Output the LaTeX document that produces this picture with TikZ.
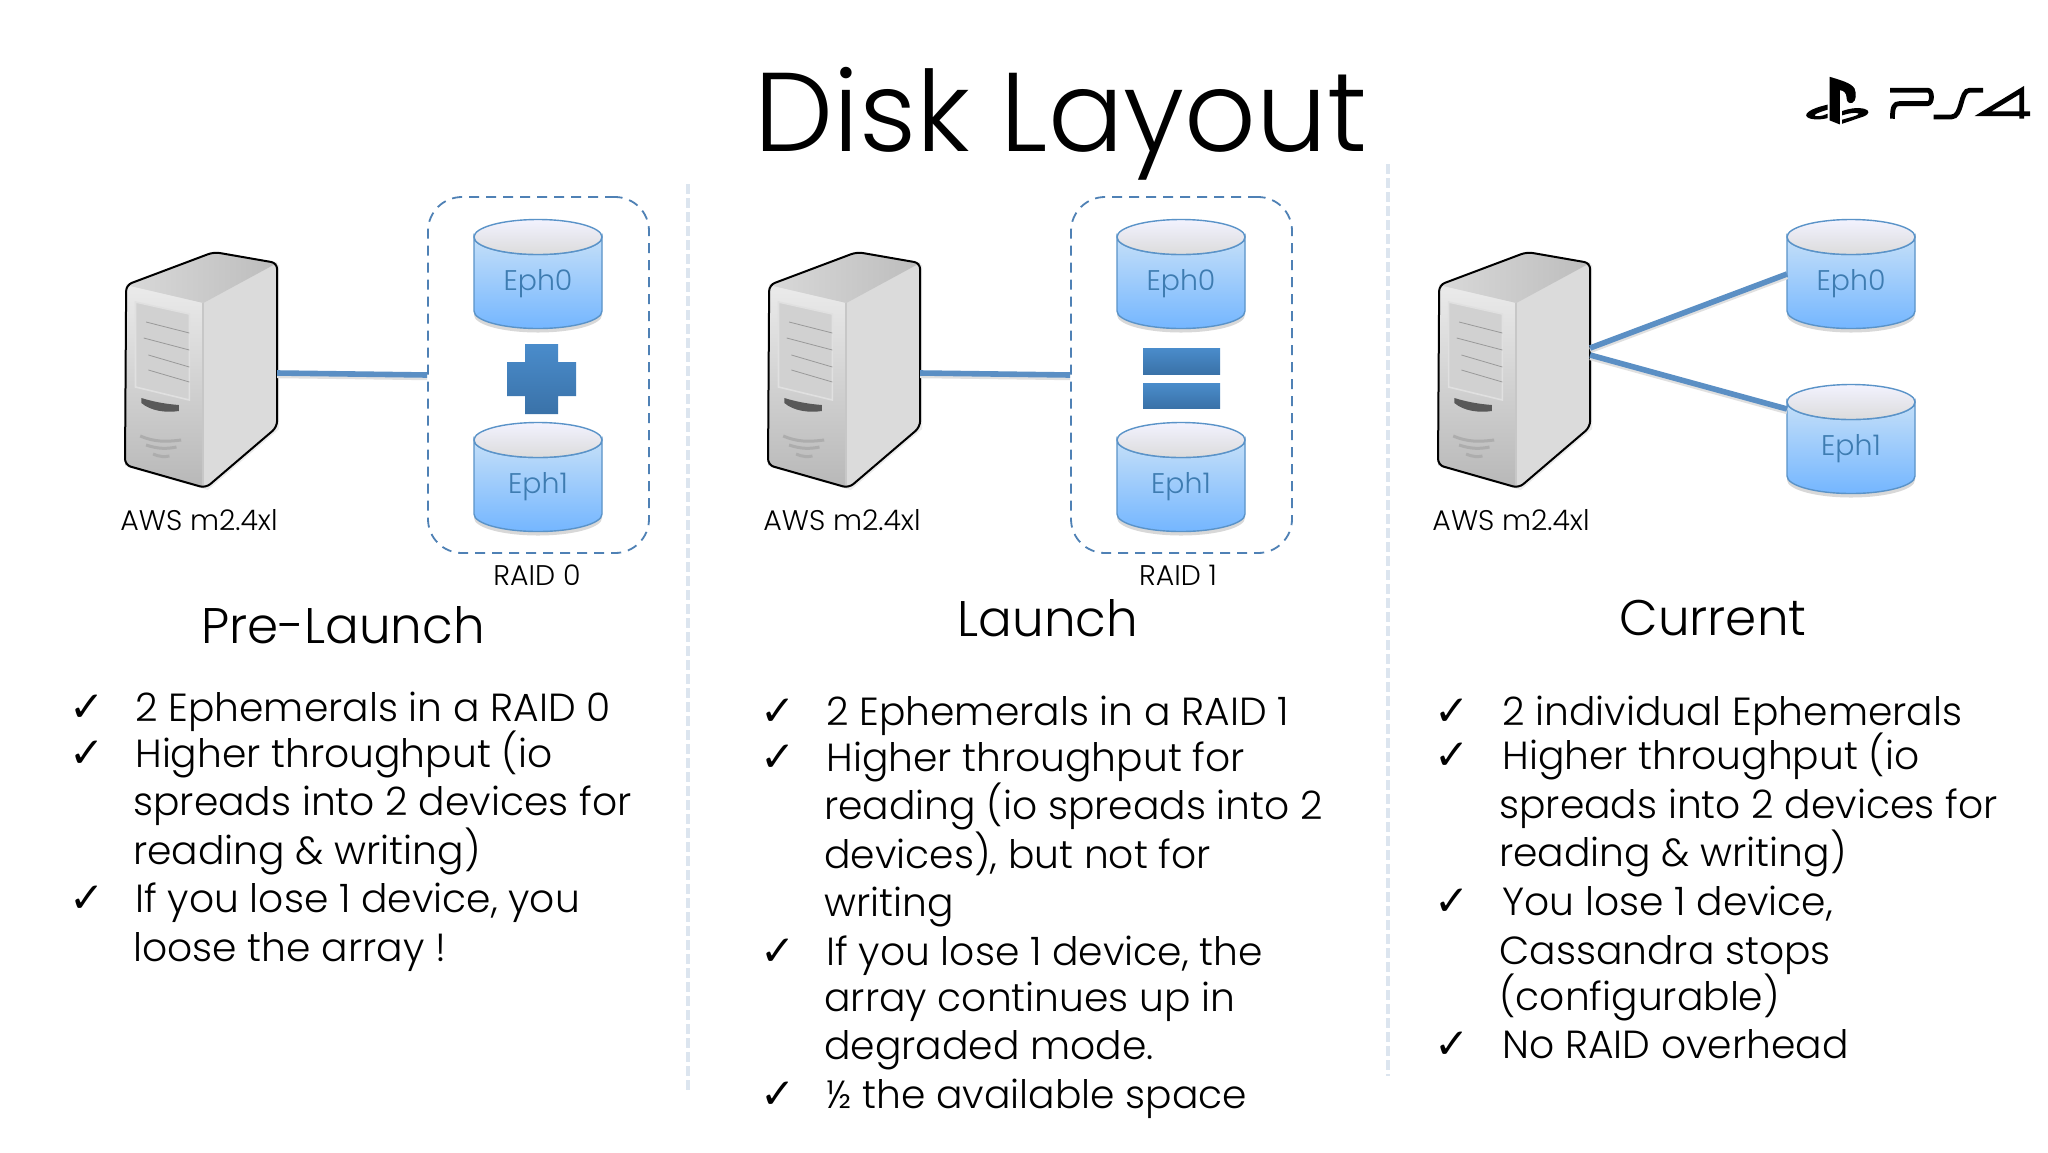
\documentclass[tikz,border=0pt]{standalone}
\usepackage{fontspec}
\setmainfont{Poppins Light}
\newfontfamily\symfont{DejaVu Sans}
\usetikzlibrary{calc,shadows}

\definecolor{wireblue}{HTML}{5B8FC4}
\definecolor{raidblue}{HTML}{4F81B5}
\definecolor{diskedge}{HTML}{5A93C8}
\definecolor{disktop}{HTML}{C4DFF8}
\definecolor{diskbot}{HTML}{74B6FF}
\definecolor{disktext}{HTML}{3E7CB1}
\definecolor{divblue}{HTML}{DCE5EF}
\definecolor{signtop}{HTML}{4A8CCB}
\definecolor{signbot}{HTML}{3A72A8}

\tikzset{
  wire/.style={draw=wireblue,line width=2.8pt,preaction={draw=black!12,line width=2.8pt,transform canvas={yshift=-1.2pt}}},
  raidbox/.style={draw=raidblue,dash pattern=on 5pt off 3.5pt,line width=0.9pt,rounded corners=17pt,minimum width=110.5pt,minimum height=178pt,inner sep=0pt},
  divider/.style={draw=divblue,line width=2pt,dash pattern=on 5pt off 2pt},
  signshade/.style={top color=signtop,bottom color=signbot},
  title/.style={font=\fontsize{56}{56}\selectfont,anchor=base},
  head/.style={font=\fontsize{25}{25}\selectfont,anchor=center},
  small/.style={font=\fontsize{14.2}{14.2}\selectfont,anchor=center},
  listline/.style={font=\fontsize{19.6}{20}\selectfont,anchor=base west,inner sep=0pt},
  tick/.style={font=\symfont\fontsize{21}{21}\selectfont,anchor=base,inner sep=0pt},
  server/.pic={
    \begin{scope}[xscale=1.17]
      \path[fill=black!12,drop shadow={opacity=.15,shadow xshift=1pt,shadow yshift=-1pt}] (1,33) -- (76,0) -- (130,11) -- (130,175) -- (69,236) -- (0,213) -- cycle;
      \shade[top color=black!8,bottom color=black!28] (1,33) -- (67,51) -- (67,236) -- (0,213) -- cycle;
      \fill[black!14] (67,51) -- (130,11) -- (130,175) -- (67,236) -- cycle;
      \shade[left color=black!15,right color=black!26] (1,33) -- (76,0) -- (130,11) -- (67,51) -- cycle;
      \draw[white!78!black,line width=1pt] (67,51) -- (67,236);
      \fill[black!18,draw=white!88!black,line width=0.8pt] (9,50) -- (55,62) -- (55,148) -- (9,135) -- cycle;
      \draw[black!40] (18,70) -- (55,81) (16,86) -- (55,98) (20,103) -- (55,115) (20,118) -- (55,130);
      \fill[black!65] (14,146) .. controls (25,150) and (35,152) .. (46,153) -- (46,159) .. controls (35,161) and (22,159) .. (14,151) -- cycle;
      \draw[black!32,line width=1.5pt] (13,184) .. controls (25,190) and (35,190) .. (48,188);
      \draw[black!32,line width=1.5pt] (18,193) .. controls (28,197) and (36,197) .. (44,195);
      \draw[black!32,line width=1.5pt] (24,202) .. controls (30,205) and (34,205) .. (38,204);
      \draw[black,line width=1pt,rounded corners=3pt] (1,33) -- (76,0) -- (130,11) -- (130,175) -- (69,236) -- (0,213) -- cycle;
      \coordinate (-port) at (130,121);
      \coordinate (-upper) at (130,96);
      \coordinate (-lower) at (130,103);
    \end{scope}
  },
  disk/.pic={
    \path[fill=white,drop shadow={opacity=.3,shadow xshift=0pt,shadow yshift=-2pt}] (-64,-37) -- (-64,37) arc (180:0:64 and 17.5) -- (64,-37) arc (0:180:64 and 17.5) -- cycle;
    \shade[top color=disktop,bottom color=diskbot,draw=diskedge,line width=0.7pt] (-64,-37) -- (-64,37) arc (180:0:64 and 17.5) -- (64,-37) arc (0:180:64 and 17.5) -- cycle;
    \shade[top color=blue!5,bottom color=black!14,draw=diskedge,line width=0.7pt] (0,-37) ellipse (64 and 17.5);
    \node[font=\fontsize{14.2}{15}\selectfont,text=disktext,inner sep=0pt] (-name) at (0,10) {\tikzpictext};
    \coordinate (-west) at (-64,0);
    \coordinate (-wtop) at (-64,-30);
  }
}

\begin{document}
\begin{tikzpicture}[x=0.5pt,y=-0.5pt]

  \useasboundingbox[fill=white] (0,0) rectangle (2048,1152);

  \node [title] (Title) at (1061,151) {Disk Layout};

  %% logo
  \begin{scope}[shift={(1780,60)},scale=0.3356]
    \fill (148,50) -- (148,180) -- (178,192) -- (178,90) .. controls (190,90) and (198,100) .. (198,110) .. controls (198,125) and (205,130) .. (215,128) .. controls (228,122) and (228,100) .. (222,85) .. controls (212,68) and (180,60) .. (148,50) -- cycle;
    \fill (142,133) .. controls (110,140) and (78,152) .. (78,165) .. controls (80,178) and (115,180) .. (142,173) -- (142,160) .. controls (125,168) and (105,170) .. (103,165) .. controls (103,160) and (125,153) .. (142,148) -- cycle;
    \fill (185,190) -- (250,168) .. controls (268,160) and (268,150) .. (250,145) .. controls (230,140) and (205,145) .. (185,152) -- (185,165) .. controls (205,158) and (228,155) .. (235,160) .. controls (235,165) and (205,172) .. (185,178) -- cycle;
    \draw[line width=2.4pt,line join=round] (328,90) -- (440,90) .. controls (455,90) and (455,130) .. (440,130) -- (355,130) .. controls (340,130) and (335,140) .. (335,175);
    \draw[line width=2.4pt] (605,90) -- (565,90) .. controls (535,90) and (545,170) .. (510,170) -- (458,170);
    \draw[line width=2.4pt,line join=miter] (745,160) -- (605,160) -- (720,90) -- (720,175);
  \end{scope}

  %% dividers
  \coordinate (DIV1a) at (688,184);
  \coordinate (DIV1b) at (688,1090);
  \coordinate (DIV2a) at (1388,164);
  \coordinate (DIV2b) at (1388,1076);
  \draw[divider] (DIV1a) -- (DIV1b);
  \draw[divider] (DIV2a) -- (DIV2b);

  %% pre-launch
  \pic (SRV1) at (125,252) {server};
  \node [small] (AWS1) at (199,520) {AWS m2.4xl};
  \node [raidbox] (RAID0) at (538.5,375) {};
  \draw[wire] (SRV1-port) -- (RAID0.west);
  \def\tikzpictext{Eph0}
  \pic (EPH10) at (538,274) {disk};
  \def\tikzpictext{Eph1}
  \pic (EPH11) at (538,477) {disk};
  \shade[signshade] (525,344) -- (558,344) -- (558,362) -- (576,362) -- (576,396) -- (558,396) -- (558,414) -- (525,414) -- (525,396) -- (507,396) -- (507,362) -- (525,362) -- cycle;
  \node [small] (RAIDL0) at (537,575) {RAID 0};
  \node [head] (PreLaunch) at (343,625) {Pre-Launch};

  %% launch
  \pic (SRV2) at (768,252) {server};
  \node [small] (AWS2) at (842,520) {AWS m2.4xl};
  \node [raidbox] (RAID1) at (1181.5,375) {};
  \draw[wire] (SRV2-port) -- (RAID1.west);
  \def\tikzpictext{Eph0}
  \pic (EPH20) at (1181,274) {disk};
  \def\tikzpictext{Eph1}
  \pic (EPH21) at (1181,477) {disk};
  \shade[signshade] (1143,348) rectangle (1220,374);
  \shade[signshade] (1143,383) rectangle (1220,408);
  \node [small] (RAIDL1) at (1178,575) {RAID 1};
  \node [head] (Launch) at (1048,618) {Launch};

  %% current
  \pic (SRV3) at (1438,252) {server};
  \node [small] (AWS3) at (1511,520) {AWS m2.4xl};
  \def\tikzpictext{Eph0}
  \pic (EPH30) at (1851,274) {disk};
  \def\tikzpictext{Eph1}
  \pic (EPH31) at (1851,439) {disk};
  \draw[wire] (SRV3-upper) -- (EPH30-west);
  \draw[wire] (SRV3-lower) -- (EPH31-wtop);
  \node [head] (Current) at (1713,618) {Current};

  %% lists
  \foreach \x/\y/\txt [count=\i] in {
    135/721/2 Ephemerals in a RAID 0,
    135/767/Higher throughput (io,
    133/815/spreads into 2 devices for,
    133/864/reading \& writing),
    135/912/{If you lose 1 device, you},
    133/961/loose the array !}
    \node [listline] (PL\i) at (\x,\y) {\txt};
  \foreach \y [count=\i] in {721,767,912}
    \node [tick] (PLT\i) at (87,\y) {✓};

  \foreach \x/\y/\txt [count=\i] in {
    826/725/2 Ephemerals in a RAID 1,
    826/771/Higher throughput for,
    824/819/reading (io spreads into 2,
    824/868/{devices), but not for},
    824/916/writing,
    826/965/{If you lose 1 device, the},
    824/1011/array continues up in,
    824/1059/degraded mode.,
    826/1108/½ the available space}
    \node [listline] (LA\i) at (\x,\y) {\txt};
  \foreach \y [count=\i] in {725,771,965,1108}
    \node [tick] (LAT\i) at (778,\y) {✓};

  \foreach \x/\y/\txt [count=\i] in {
    1502/725/2 individual Ephemerals,
    1502/769/Higher throughput (io,
    1499/818/spreads into 2 devices for,
    1499/866/reading \& writing),
    1502/915/{You lose 1 device,},
    1499/964/Cassandra stops,
    1499/1010/(configurable),
    1502/1058/No RAID overhead}
    \node [listline] (CU\i) at (\x,\y) {\txt};
  \foreach \y [count=\i] in {725,769,915,1058}
    \node [tick] (CUT\i) at (1452,\y) {✓};

\end{tikzpicture}
\end{document}
